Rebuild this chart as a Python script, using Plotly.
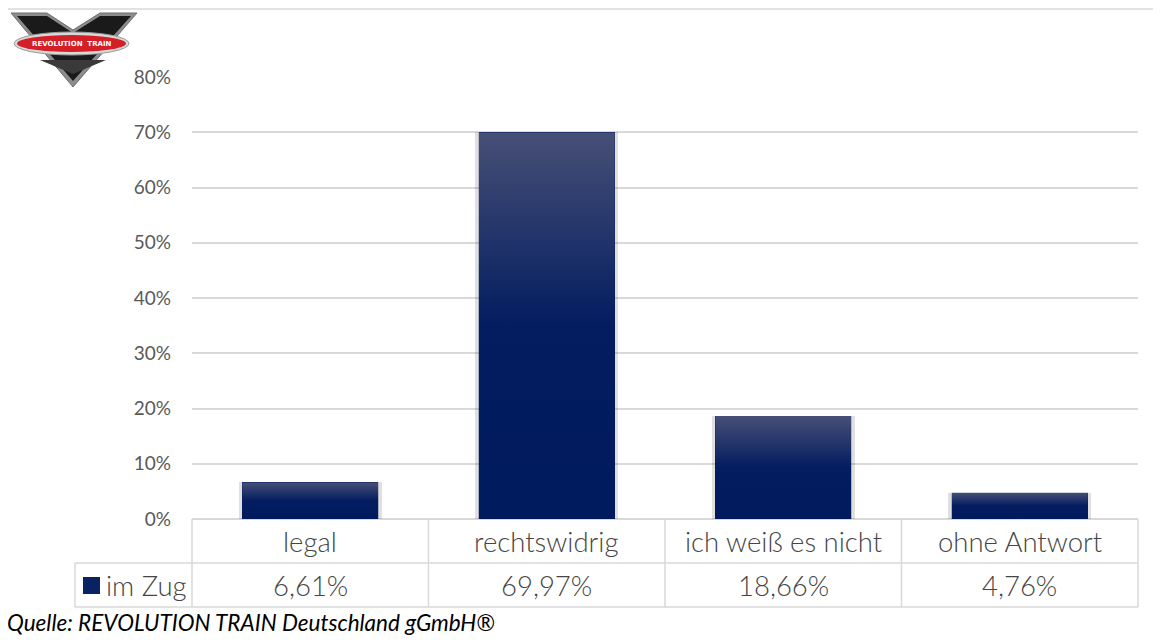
import plotly.graph_objects as go

categories = ["legal", "rechtswidrig", "ich weiß es nicht", "ohne Antwort"]
values = [6.61, 69.97, 18.66, 4.76]
value_labels = ["6,61%", "69,97%", "18,66%", "4,76%"]
series_name = "im Zug"
y_ticks = [0, 10, 20, 30, 40, 50, 60, 70, 80]
y_tick_labels = ["0%", "10%", "20%", "30%", "40%", "50%", "60%", "70%", "80%"]
source_text = "Quelle: REVOLUTION TRAIN Deutschland gGmbH®"

OFF = 8  # browser body margin
W, H = 1161 - 2 * OFF, 643 - 2 * OFF
L, T = 192 - OFF, 77 - OFF
R = W - (1138 - OFF)
B = H - (519 - OFF)
PW, PH = W - L - R, H - T - B
FONT = "Lato, Open Sans, sans-serif"
GRID = "#d9d9d9"
TXT = "#454545"
BAR_W = 0.575


def px(x):  # screen pixel -> paper
    return (x - 192) / PW


def py(y):
    return (519 - y) / PH


fig = go.Figure()
xs = list(range(len(categories)))

fig.add_trace(go.Bar(x=xs, y=values, width=BAR_W + 0.03, marker=dict(color="rgba(0,0,0,0.12)", line=dict(width=0)),
                     hoverinfo="skip", showlegend=False))
fig.add_trace(go.Bar(x=xs, y=values, width=BAR_W, name=series_name,
                     marker=dict(color="#001a5e", line=dict(width=0)), showlegend=False))
for i, v in zip(xs, values):
    fig.add_trace(go.Scatter(
        x=[i - BAR_W / 2, i + BAR_W / 2, i + BAR_W / 2, i - BAR_W / 2, i - BAR_W / 2],
        y=[0, 0, v, v, 0], fill="toself", mode="lines", line=dict(width=0),
        fillgradient=dict(type="vertical", colorscale=[[0, "#001a5e"], [0.5, "#031d60"], [1, "#474f76"]]),
        hoverinfo="skip", showlegend=False))

shapes = []
ann = []
line = dict(color=GRID, width=1.5)
shapes.append(dict(type="rect", xref="paper", yref="paper", x0=px(7), x1=px(1158), y0=py(9), y1=py(700),
                   line=dict(color=GRID, width=1.5), layer="below"))
r1, r2, r3 = 519, 563, 607
col_x = [192 + PW * k / 4 for k in range(5)]
shapes.append(dict(type="line", xref="paper", yref="paper", x0=px(75), x1=px(1138), y0=py(r2), y1=py(r2), line=line))
shapes.append(dict(type="line", xref="paper", yref="paper", x0=px(75), x1=px(1138), y0=py(r3), y1=py(r3), line=line))
shapes.append(dict(type="line", xref="paper", yref="paper", x0=px(75), x1=px(75), y0=py(r2), y1=py(r3), line=line))
for cx in col_x:
    shapes.append(dict(type="line", xref="paper", yref="paper", x0=px(cx), x1=px(cx), y0=py(r1), y1=py(r3), line=line))
TFONT = dict(family=FONT, size=27.5, color=TXT, weight=300)
for k, (c, vl) in enumerate(zip(categories, value_labels)):
    xc = px((col_x[k] + col_x[k + 1]) / 2)
    ann.append(dict(x=xc, y=py((r1 + r2) / 2), xref="paper", yref="paper", text=c, showarrow=False,
                    font=TFONT, xanchor="center", yanchor="middle"))
    ann.append(dict(x=xc, y=py((r2 + r3) / 2), xref="paper", yref="paper", text=vl, showarrow=False,
                    font=TFONT, xanchor="center", yanchor="middle"))
shapes.append(dict(type="rect", xref="paper", yref="paper", x0=px(83), x1=px(100), y0=py(577), y1=py(594),
                   fillcolor="#0a2262", line=dict(width=0)))
ann.append(dict(x=px(104), y=py(585), xref="paper", yref="paper", text=series_name, showarrow=False,
                font=TFONT, xanchor="left", yanchor="middle"))
ann.append(dict(x=px(5), y=py(622), xref="paper", yref="paper", text=source_text, showarrow=False,
                font=dict(family=FONT, size=22.5, color="#000000", style="italic"), xanchor="left", yanchor="middle"))


def path(pts):
    return "M " + " L ".join(f"{px(a)},{py(b)}" for a, b in pts) + " Z"


shapes.append(dict(type="path", xref="paper", yref="paper",
                   path=path([(11, 13), (47, 13), (73, 30), (100, 13), (137, 13), (73, 87)]),
                   fillcolor="#8c8c8c", line=dict(color="#6e6e6e", width=1)))
shapes.append(dict(type="path", xref="paper", yref="paper",
                   path=path([(17, 16), (47, 16), (73, 33), (100, 16), (131, 16), (73, 81)]),
                   fillcolor="#1a1a1a", line=dict(width=0)))
shapes.append(dict(type="path", xref="paper", yref="paper",
                   path=path([(40, 60), (106, 60), (73, 74)]),
                   fillcolor="#3a3a3a", line=dict(width=0)))
shapes.append(dict(type="circle", xref="paper", yref="paper", x0=px(14), x1=px(129), y0=py(32), y1=py(55),
                   fillcolor="#d8d8d8", line=dict(color="#9a9a9a", width=1)))
shapes.append(dict(type="circle", xref="paper", yref="paper", x0=px(17), x1=px(126), y0=py(35), y1=py(52),
                   fillcolor="#d41f26", line=dict(width=0)))
ann.append(dict(x=px(72), y=py(43.5), xref="paper", yref="paper", text="<b>REVOLUTION  TRAIN</b>", showarrow=False,
                font=dict(family="DejaVu Sans, sans-serif", size=7, color="#ffffff"), xanchor="center", yanchor="middle"))

fig.update_layout(
    width=W, height=H,
    margin=dict(l=L, r=R, t=T, b=B, pad=0),
    paper_bgcolor="white", plot_bgcolor="white",
    barmode="overlay", bargap=0,
    showlegend=False,
    xaxis=dict(range=[-0.5, len(categories) - 0.5], showticklabels=False, showgrid=False, zeroline=False,
               showline=False, ticks=""),
    yaxis=dict(range=[0, 80], tickvals=y_ticks, ticktext=y_tick_labels, showgrid=True, gridcolor=GRID,
               gridwidth=1.5, zeroline=True, zerolinecolor=GRID, zerolinewidth=1.5, showline=False, ticks="",
               ticklabelstandoff=20, tickfont=dict(family=FONT, size=19, color="#595959")),
    shapes=shapes,
    annotations=ann,
)

fig.write_html("out.html")
